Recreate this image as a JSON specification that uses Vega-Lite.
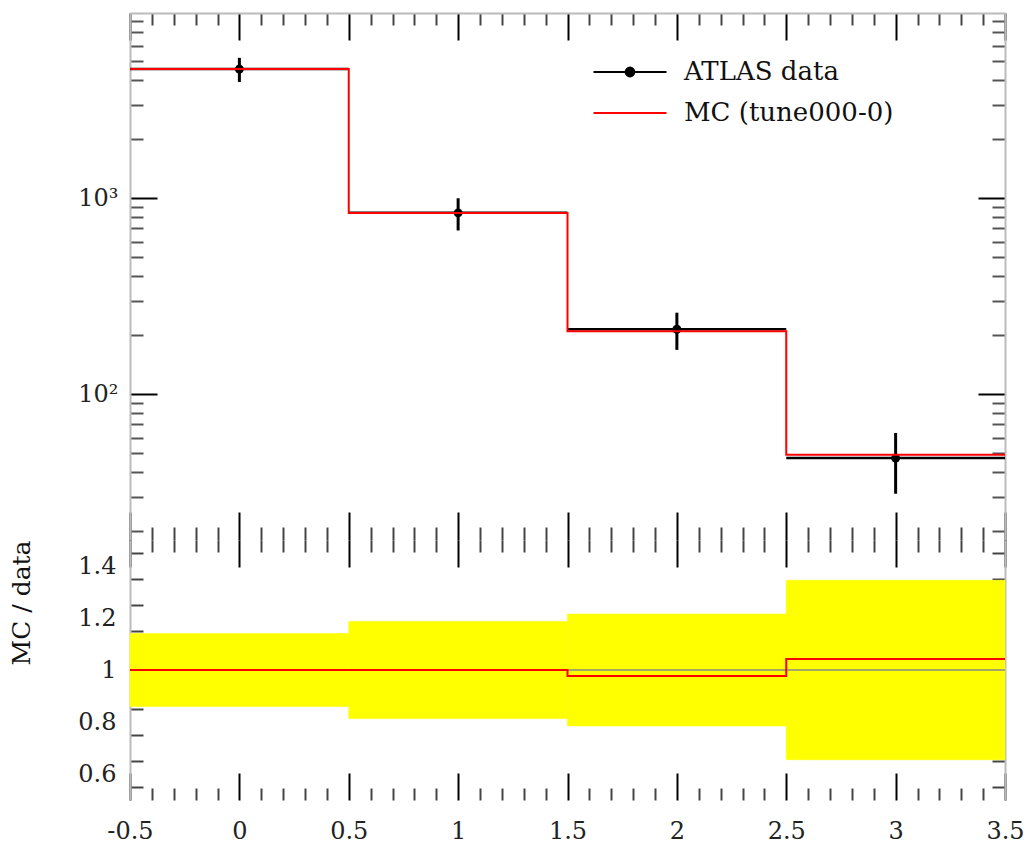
{
  "$schema": "https://vega.github.io/schema/vega-lite/v6.json",
  "background": "white",
  "padding": {"left": 9, "top": 9, "right": 0, "bottom": 0},
  "bounds": "flush",
  "spacing": 0,
  "config": {
    "view": {"stroke": null},
    "font": "DejaVu Serif",
    "concat": {"spacing": 0},
    "axis": {"grid": false, "labelFont": "DejaVu Serif", "titleFont": "DejaVu Serif", "tickWidth": 2, "labelColor": "#222", "labelOverlap": false, "labelFlush": false}
  },
  "datasets": {
    "bins": [
      {"lo": -0.5, "hi": 0.5, "x": 0, "data": 4550, "elo": 3910, "ehi": 5190, "band_lo": 0.86, "band_hi": 1.14},
      {"lo": 0.5, "hi": 1.5, "x": 1, "data": 840, "elo": 683, "ehi": 997, "band_lo": 0.813, "band_hi": 1.187},
      {"lo": 1.5, "hi": 2.5, "x": 2, "data": 214, "elo": 168, "ehi": 260, "band_lo": 0.785, "band_hi": 1.215},
      {"lo": 2.5, "hi": 3.5, "x": 3, "data": 47.1, "elo": 31.0, "ehi": 63.3, "band_lo": 0.655, "band_hi": 1.345}
    ],
    "mcstep": [
      {"edge": -0.5, "mc": 4550, "ratio": 1.0},
      {"edge": 0.5, "mc": 838, "ratio": 1.0},
      {"edge": 1.5, "mc": 209, "ratio": 0.977},
      {"edge": 2.5, "mc": 49.0, "ratio": 1.042},
      {"edge": 3.5, "mc": 49.0, "ratio": 1.042}
    ]
  },
  "vconcat": [
    {
      "width": 875,
      "height": 527,
      "resolve": {"axis": {"x": "independent", "y": "independent"}},
      "layer": [
        {
          "data": {"name": "bins"},
          "mark": {"type": "rule", "strokeWidth": 2.5},
          "encoding": {
            "x": {"field": "lo", "type": "quantitative", "scale": {"domain": [-0.5, 3.5], "nice": false, "zero": false},
              "axis": {"orient": "top", "title": null, "labels": false, "domain": true, "domainColor": "#bbb", "domainWidth": 2,
                "values": [-0.5,-0.4,-0.3,-0.2,-0.1,0,0.1,0.2,0.3,0.4,0.5,0.6,0.7,0.8,0.9,1,1.1,1.2,1.3,1.4,1.5,1.6,1.7,1.8,1.9,2,2.1,2.2,2.3,2.4,2.5,2.6,2.7,2.8,2.9,3,3.1,3.2,3.3,3.4,3.5],
                "tickSize": {"condition": {"test": "abs(datum.value*2-round(datum.value*2))<0.001", "value": -27}, "value": -12},
                "tickColor": {"condition": {"test": "abs(datum.value*2-round(datum.value*2))<0.001", "value": "#000"}, "value": "#444"}}},
            "x2": {"field": "hi"},
            "y": {"field": "data", "type": "quantitative", "scale": {"type": "log", "domain": [18, 8790], "nice": false},
              "axis": {"orient": "left", "title": null, "domain": true, "domainColor": "#bbb", "domainWidth": 2,
                "values": [20,30,40,50,60,70,80,90,100,200,300,400,500,600,700,800,900,1000,2000,3000,4000,5000,6000,7000,8000],
                "tickSize": {"condition": {"test": "datum.value==100||datum.value==1000", "value": -27}, "value": -13},
                "tickColor": {"condition": {"test": "datum.value==100||datum.value==1000", "value": "#000"}, "value": "#555"},
                "labelExpr": "datum.value==1000?'10³':datum.value==100?'10²':''",
                "labelFontSize": 24, "labelPadding": 39}},
            "color": {"datum": "ATLAS data", "type": "nominal",
              "scale": {"domain": ["ATLAS data", "MC (tune000-0)"], "range": ["#000000", "#ff0000"]},
              "legend": {"orient": "none", "legendX": 487, "legendY": 46, "title": null,
                "labelFont": "DejaVu Serif", "labelFontSize": 26, "labelColor": "#111", "labelOffset": 41, "labelLimit": 0,
                "symbolSize": 213, "rowPadding": 15, "symbolStrokeWidth": 2,
                "symbolType": "M-5,0H5",
                "encode": {"symbols": {"update": {
                  "shape": {"signal": "datum.value=='ATLAS data' ? 'M-5,0H5M-0.6,0A0.6,0.6,0,1,0,0.6,0A0.6,0.6,0,1,0,-0.6,0Z' : 'M-5,0H5'"},
                  "fill": {"signal": "datum.value=='ATLAS data' ? '#000' : 'transparent'"},
                  "stroke": {"signal": "datum.value=='ATLAS data' ? '#000' : '#ff0000'"},
                  "strokeWidth": {"value": 2}}}}}}
          }
        },
        {
          "data": {"name": "bins"},
          "mark": {"type": "rule", "strokeWidth": 3, "color": "#000"},
          "encoding": {
            "x": {"field": "x", "type": "quantitative",
              "axis": {"orient": "bottom", "title": null, "labels": false, "domain": false,
                "values": [-0.5,-0.4,-0.3,-0.2,-0.1,0,0.1,0.2,0.3,0.4,0.5,0.6,0.7,0.8,0.9,1,1.1,1.2,1.3,1.4,1.5,1.6,1.7,1.8,1.9,2,2.1,2.2,2.3,2.4,2.5,2.6,2.7,2.8,2.9,3,3.1,3.2,3.3,3.4,3.5],
                "tickSize": {"condition": {"test": "abs(datum.value*2-round(datum.value*2))<0.001", "value": -28}, "value": -13},
                "tickColor": {"condition": {"test": "abs(datum.value*2-round(datum.value*2))<0.001", "value": "#000"}, "value": "#444"}}},
            "y": {"field": "elo", "type": "quantitative",
              "axis": {"orient": "right", "title": null, "labels": false, "domain": true, "domainColor": "#bbb", "domainWidth": 2,
                "values": [20,30,40,50,60,70,80,90,100,200,300,400,500,600,700,800,900,1000,2000,3000,4000,5000,6000,7000,8000],
                "tickSize": {"condition": {"test": "datum.value==100||datum.value==1000", "value": -27}, "value": -13},
                "tickColor": {"condition": {"test": "datum.value==100||datum.value==1000", "value": "#000"}, "value": "#555"}}},
            "y2": {"field": "ehi"}
          }
        },
        {
          "data": {"name": "bins"},
          "mark": {"type": "point", "filled": true, "color": "#000", "size": 80, "opacity": 1},
          "encoding": {
            "x": {"field": "x", "type": "quantitative", "axis": null},
            "y": {"field": "data", "type": "quantitative", "axis": null}
          }
        },
        {
          "data": {"name": "mcstep"},
          "mark": {"type": "line", "interpolate": "step-after", "strokeWidth": 2},
          "encoding": {
            "x": {"field": "edge", "type": "quantitative", "axis": null},
            "y": {"field": "mc", "type": "quantitative", "axis": null},
            "color": {"datum": "MC (tune000-0)", "type": "nominal"}
          }
        }
      ]
    },
    {
      "width": 875,
      "height": 260,
      "resolve": {"axis": {"x": "independent", "y": "independent"}},
      "layer": [
        {
          "data": {"name": "bins"},
          "mark": {"type": "rect", "color": "#ffff00", "stroke": "#ffff00", "strokeWidth": 0.6, "opacity": 1},
          "encoding": {
            "x": {"field": "lo", "type": "quantitative", "scale": {"domain": [-0.5, 3.5], "nice": false, "zero": false},
              "axis": {"orient": "bottom", "title": null, "domain": false,
                "values": [-0.5,-0.4,-0.3,-0.2,-0.1,0,0.1,0.2,0.3,0.4,0.5,0.6,0.7,0.8,0.9,1,1.1,1.2,1.3,1.4,1.5,1.6,1.7,1.8,1.9,2,2.1,2.2,2.3,2.4,2.5,2.6,2.7,2.8,2.9,3,3.1,3.2,3.3,3.4,3.5],
                "tickSize": {"condition": {"test": "abs(datum.value*2-round(datum.value*2))<0.001", "value": -27}, "value": -12},
                "tickColor": {"condition": {"test": "abs(datum.value*2-round(datum.value*2))<0.001", "value": "#000"}, "value": "#444"},
                "labelExpr": "abs(datum.value*2-round(datum.value*2))<0.001 ? ''+datum.value : ''",
                "labelFontSize": 24, "labelPadding": 46}},
            "x2": {"field": "hi"},
            "y": {"field": "band_lo", "type": "quantitative", "scale": {"domain": [0.5, 1.5], "nice": false, "zero": false},
              "axis": {"orient": "left", "title": "MC / data", "titleFontSize": 25, "titleFontWeight": "normal", "titleColor": "#111",
                "titleAnchor": "end", "titlePadding": 43, "domain": true, "domainColor": "#bbb", "domainWidth": 2,
                "values": [0.55,0.6,0.65,0.75,0.8,0.85,0.9,0.95,1,1.05,1.1,1.15,1.2,1.25,1.35,1.4,1.45],
                "tickSize": {"condition": {"test": "indexof([0.6,0.8,1,1.2,1.4], datum.value) >= 0", "value": 0}, "value": -13},
                "tickColor": "#444",
                "labelExpr": "indexof([0.6,0.8,1,1.2,1.4], datum.value) >= 0 ? ''+datum.value : ''",
                "labelFontSize": 24, "labelPadding": 14}},
            "y2": {"field": "band_hi"}
          }
        },
        {
          "data": {"values": [{}]},
          "mark": {"type": "rule", "color": "#888", "strokeWidth": 1.5},
          "encoding": {
            "y": {"datum": 1, "type": "quantitative", "axis": null}
          }
        },
        {
          "data": {"name": "mcstep"},
          "mark": {"type": "line", "interpolate": "step-after", "strokeWidth": 2, "color": "#ff0000"},
          "encoding": {
            "x": {"field": "edge", "type": "quantitative",
              "axis": {"orient": "top", "title": null, "labels": false, "domain": false,
                "values": [-0.5,-0.4,-0.3,-0.2,-0.1,0,0.1,0.2,0.3,0.4,0.5,0.6,0.7,0.8,0.9,1,1.1,1.2,1.3,1.4,1.5,1.6,1.7,1.8,1.9,2,2.1,2.2,2.3,2.4,2.5,2.6,2.7,2.8,2.9,3,3.1,3.2,3.3,3.4,3.5],
                "tickSize": {"condition": {"test": "abs(datum.value*2-round(datum.value*2))<0.001", "value": -27}, "value": -12},
                "tickColor": {"condition": {"test": "abs(datum.value*2-round(datum.value*2))<0.001", "value": "#000"}, "value": "#444"}}},
            "y": {"field": "ratio", "type": "quantitative",
              "axis": {"orient": "right", "title": null, "labels": false, "domain": true, "domainColor": "#bbb", "domainWidth": 2,
                "values": [0.55,0.65,0.75,0.85,0.9,0.95,1.05,1.1,1.15,1.25,1.35,1.45],
                "tickSize": -13, "tickColor": "#444"}}
          }
        }
      ]
    }
  ]
}
